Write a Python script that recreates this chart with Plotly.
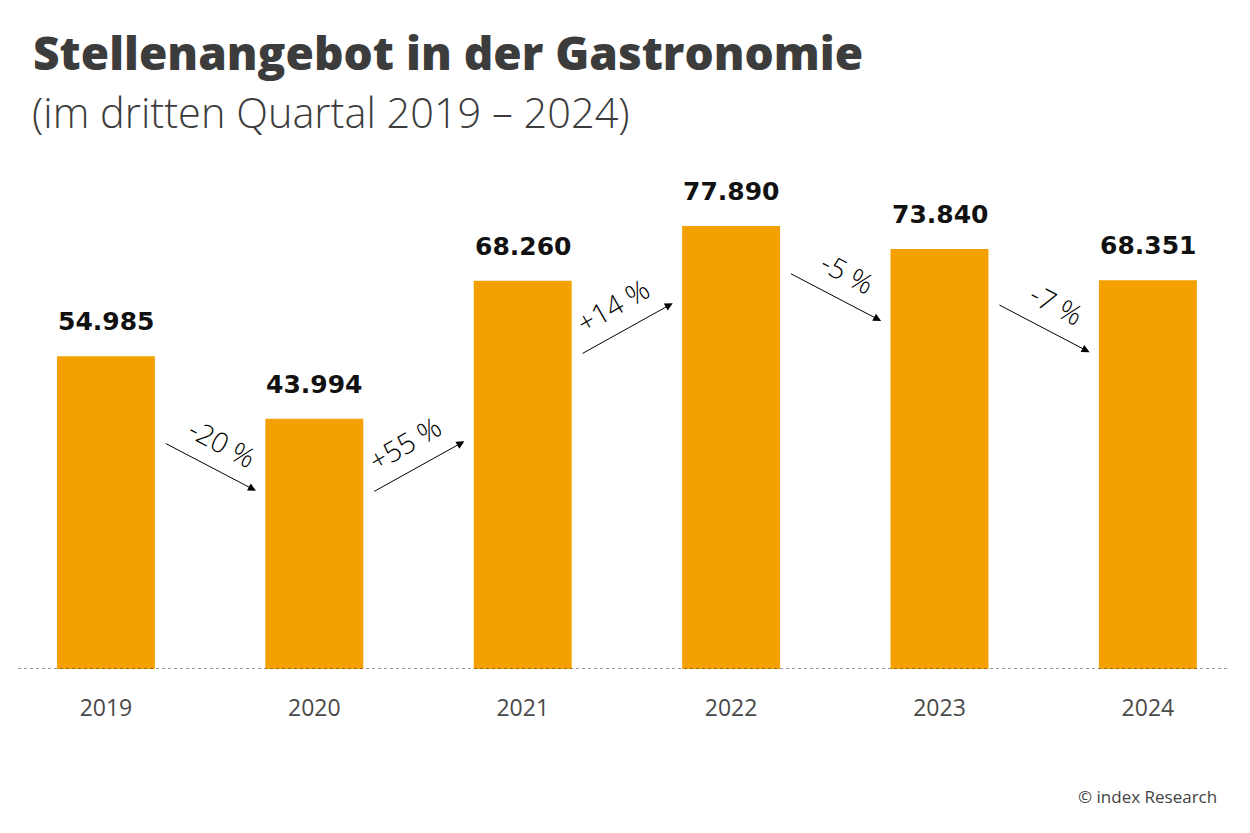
import math
import plotly.graph_objects as go

years = ["2019", "2020", "2021", "2022", "2023", "2024"]
values = [54985, 43994, 68260, 77890, 73840, 68351]
value_labels = ["54.985", "43.994", "68.260", "77.890", "73.840", "68.351"]
change_labels = ["-20 %", "+55 %", "+14 %", "-5 %", "-7 %"]

BAR = "#F4A000"
W, H = 1250, 833
L, R, T, B = 18, 20, 140, 164
plot_w = W - L - R
plot_h = H - T - B
YMAX = 93000
px_per_unit = plot_h / YMAX
XR = [-0.422, 5.394]

fig = go.Figure()
fig.add_trace(go.Bar(
    x=list(range(len(years))), y=values, width=0.47,
    marker=dict(color=BAR, line=dict(width=0)),
    hoverinfo="skip",
))

ann = []
# value labels
for i, (v, t) in enumerate(zip(values, value_labels)):
    ann.append(dict(x=i, y=v, xref="x", yref="y", text=t, showarrow=False,
                    yanchor="bottom", yshift=18,
                    font=dict(family="DejaVu Sans", size=25, color="#111111", weight=700)))

# change arrows
for i, lab in enumerate(change_labels):
    a, b = values[i], values[i + 1]
    low = min(a, b)
    up = b > a
    x0, x1 = i + 0.28, i + 0.72
    mid_y_px = low * px_per_unit - 48
    dy_px = 48 if not up else 51
    head_y = (mid_y_px - dy_px / 2) if not up else (mid_y_px + dy_px / 2)
    tail_y = (mid_y_px + dy_px / 2) if not up else (mid_y_px - dy_px / 2)
    ann.append(dict(x=x1, y=head_y / px_per_unit, xref="x", yref="y",
                    ax=x0, ay=tail_y / px_per_unit, axref="x", ayref="y",
                    text="", showarrow=True, arrowhead=2, arrowsize=1.6,
                    arrowwidth=1, arrowcolor="#000000"))
    ang = 28 if not up else -30
    th = math.radians(ang)
    nx, ny = math.sin(th), -math.cos(th)
    off = 27
    ann.append(dict(x=(x0 + x1) / 2, y=mid_y_px / px_per_unit, xref="x", yref="y",
                    text=lab, showarrow=False, textangle=ang,
                    xshift=nx * off, yshift=-ny * off,
                    font=dict(family="Open Sans", size=28, color="#000000", weight=300)))


def px_x(p):
    return (p - L) / plot_w


def px_y(p):
    return (H - B - p) / plot_h


ann.append(dict(x=px_x(31), y=px_y(52), xref="paper", yref="paper", xanchor="left",
                yanchor="middle", showarrow=False, text="Stellenangebot in der Gastronomie",
                font=dict(family="Open Sans", size=46, color="#3c3c3c", weight=800)))
ann.append(dict(x=px_x(30), y=px_y(112), xref="paper", yref="paper", xanchor="left",
                yanchor="middle", showarrow=False, text="(im dritten Quartal 2019 – 2024)",
                font=dict(family="Open Sans", size=41.5, color="#3c3c3c", weight=300)))
ann.append(dict(x=px_x(1219), y=px_y(796), xref="paper", yref="paper", xanchor="right",
                yanchor="middle", showarrow=False, text="© index Research",
                font=dict(family="Open Sans", size=17, color="#444444")))

fig.update_layout(
    width=W, height=H, margin=dict(l=L, r=R, t=T, b=B),
    paper_bgcolor="white", plot_bgcolor="white", showlegend=False,
    annotations=ann,
    shapes=[dict(type="line", xref="paper", yref="y", x0=0, x1=1, y0=0, y1=0,
                 line=dict(color="#333333", width=1, dash="dot"))],
    xaxis=dict(range=XR, tickmode="array", tickvals=list(range(6)),
               ticktext=years, showgrid=False, zeroline=False, showline=False,
               ticks="", ticklabelstandoff=23,
               tickfont=dict(family="Open Sans", size=23, color="#4a4a4a")),
    yaxis=dict(range=[0, YMAX], visible=False, showgrid=False, zeroline=False),
)

fig.write_html("out.html")
